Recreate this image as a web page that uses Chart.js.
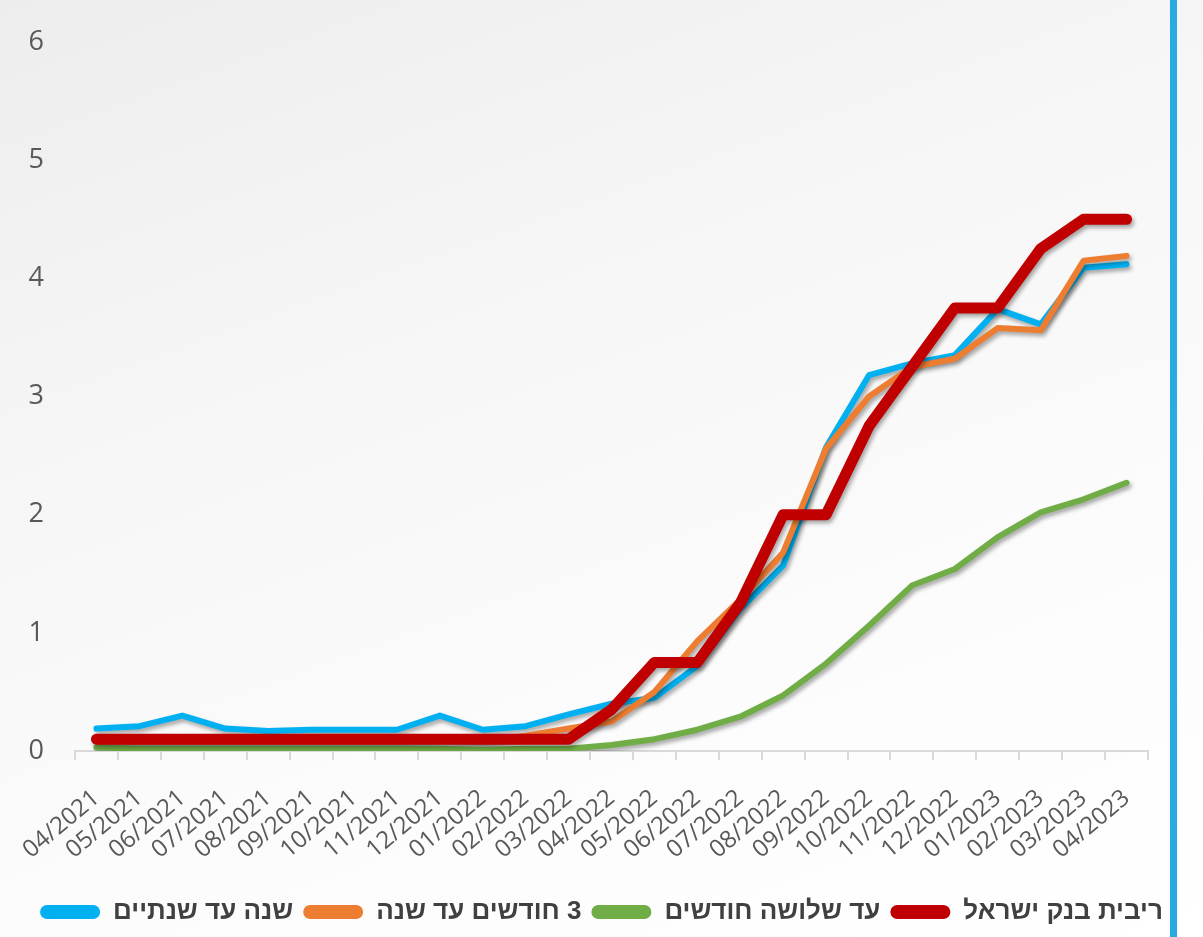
<!DOCTYPE html>
<html>
<head>
<meta charset="utf-8">
<script src="https://cdn.jsdelivr.net/npm/chart.js@4"></script>
<style>
    html, body { margin: 0; padding: 0; }
    body {
        width: 1203px; height: 937px; overflow: hidden; position: relative;
        background: linear-gradient(160deg, #ededed 0%, #f6f6f6 35%, #fcfcfc 70%, #ffffff 100%);
    }
    #wrap { position: absolute; left: 0; top: 0; width: 1203px; height: 937px; }
    #blueBar { position: absolute; left: 1170px; top: 0; width: 7px; height: 937px; background: #29abe2; }
</style>
</head>
<body>
<div id="wrap"><canvas id="ratesChart"></canvas></div>
<div id="blueBar"></div>
<script>
// Months on the x axis
var months = ['04/2021', '05/2021', '06/2021', '07/2021', '08/2021', '09/2021', '10/2021', '11/2021', '12/2021',
    '01/2022', '02/2022', '03/2022', '04/2022', '05/2022', '06/2022', '07/2022', '08/2022', '09/2022', '10/2022',
    '11/2022', '12/2022', '01/2023', '02/2023', '03/2023', '04/2023'];

// Bank of Israel rate
var boiRate = [0.1, 0.1, 0.1, 0.1, 0.1, 0.1, 0.1, 0.1, 0.1, 0.1, 0.1, 0.1,
    0.35, 0.75, 0.75, 1.25, 2, 2, 2.75, 3.25, 3.75, 3.75, 4.25, 4.5, 4.5];
// up to three months
var upTo3Months = [0.03, 0.02, 0.02, 0.02, 0.02, 0.02, 0.02, 0.02, 0.02, 0.01, 0.02, 0.02,
    0.05, 0.1, 0.18, 0.29, 0.47, 0.74, 1.06, 1.4, 1.54, 1.81, 2.02, 2.13, 2.27];
// 3 months to a year
var months3ToYear = [0.08, 0.08, 0.08, 0.08, 0.08, 0.08, 0.08, 0.08, 0.1, 0.08, 0.13, 0.19,
    0.25, 0.5, 0.93, 1.28, 1.68, 2.56, 3.0, 3.25, 3.32, 3.58, 3.56, 4.15, 4.19];
// a year to two years
var yearTo2Years = [0.19, 0.21, 0.3, 0.19, 0.17, 0.18, 0.18, 0.18, 0.3, 0.18, 0.21, 0.31,
    0.4, 0.45, 0.72, 1.2, 1.57, 2.57, 3.18, 3.28, 3.35, 3.74, 3.61, 4.09, 4.12];

// Y axis ticks
var yTicks = [0, 1, 2, 3, 4, 5, 6];

var legendNames = ['ריבית בנק ישראל', 'עד שלושה חודשים', '3 חודשים עד שנה', 'שנה עד שנתיים'];

// Drop shadow under every line
var shadowPlugin = {
    id: 'lineShadow',
    beforeDatasetDraw: function(chart) {
        var c = chart.ctx;
        c.save();
        c.shadowColor = 'rgba(0, 0, 0, 0.35)';
        c.shadowBlur = 4;
        c.shadowOffsetX = 2;
        c.shadowOffsetY = 3;
    },
    afterDatasetDraw: function(chart) {
        chart.ctx.restore();
    }
};

var ctx = document.getElementById('ratesChart').getContext('2d');

var myChart = new Chart(ctx, {
    type: 'line',
    data: {
        labels: months,
        datasets: [
            { label: legendNames[0], data: boiRate, borderColor: '#c00000', backgroundColor: '#c00000', borderWidth: 11 },
            { label: legendNames[1], data: upTo3Months, borderColor: '#70ad47', backgroundColor: '#70ad47', borderWidth: 6 },
            { label: legendNames[2], data: months3ToYear, borderColor: '#ed7d31', backgroundColor: '#ed7d31', borderWidth: 6 },
            { label: legendNames[3], data: yearTo2Years, borderColor: '#00b0f0', backgroundColor: '#00b0f0', borderWidth: 6 }
        ]
    },
    plugins: [shadowPlugin],
    options: {
        responsive: true,
        maintainAspectRatio: false,
        animation: false,
        layout: { padding: { top: 42, right: 0, left: 0, bottom: 2 } },
        elements: {
            point: { radius: 0 },
            line: { tension: 0, borderCapStyle: 'round', borderJoinStyle: 'round' }
        },
        scales: {
            x: {
                offset: true,
                grid: { display: true, drawOnChartArea: false, drawTicks: true, tickLength: 9, color: '#d9d9d9', lineWidth: 2, offset: true },
                border: { display: true, color: '#d9d9d9', width: 2 },
                ticks: {
                    color: '#595959',
                    font: { family: "'Open Sans', sans-serif", size: 24 },
                    minRotation: 40, maxRotation: 40, autoSkip: false, padding: 24
                },
                afterFit: function(scale) { scale.height = 138; }
            },
            y: {
                min: 0, max: 6,
                afterBuildTicks: function(scale) {
                    scale.ticks = yTicks.map(function(v) { return { value: v }; });
                },
                grid: { display: false },
                border: { display: false },
                ticks: {
                    color: '#595959',
                    font: { family: "'Open Sans', sans-serif", size: 27 },
                    crossAlign: 'center', padding: 23
                },
                afterFit: function(scale) { scale.width = 75; }
            },
            // empty axis that only keeps room on the right side
            yRight: {
                position: 'right',
                min: 0, max: 6,
                grid: { display: false },
                border: { display: false },
                ticks: { display: false },
                afterFit: function(scale) { scale.width = 55; }
            }
        },
        plugins: {
            tooltip: { enabled: false },
            legend: {
                position: 'bottom',
                reverse: true,
                labels: {
                    color: '#404040',
                    font: { family: "'Liberation Sans Narrow', 'Liberation Sans', sans-serif", size: 26, weight: 'bold' },
                    boxWidth: 60,
                    boxHeight: 14,
                    padding: 10,
                    useBorderRadius: true,
                    borderRadius: 7,
                    generateLabels: function(chart) {
                        var items = Chart.defaults.plugins.legend.labels.generateLabels(chart);
                        items.forEach(function(item) {
                            item.lineWidth = 0;
                            item.text = '\u200F' + item.text;
                        });
                        return items;
                    }
                }
            }
        }
    }
});
</script>
</body>
</html>
